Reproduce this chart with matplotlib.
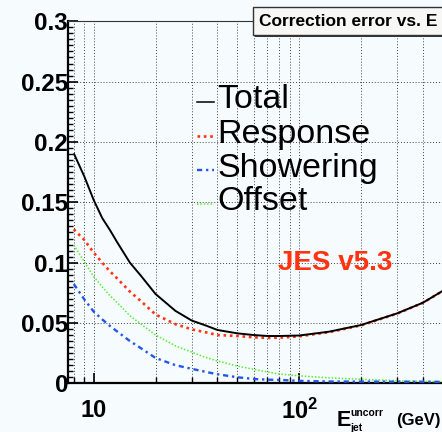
import numpy as np
import matplotlib
matplotlib.use("Agg")
import matplotlib.pyplot as plt
import matplotlib.ticker as ticker
from matplotlib.lines import Line2D
from matplotlib.patches import Rectangle

plt.rcParams['font.family'] = 'Liberation Sans'
plt.rcParams['mathtext.fontset'] = 'custom'
plt.rcParams['mathtext.rm'] = 'Liberation Sans'
plt.rcParams['mathtext.bf'] = 'Liberation Sans:bold'
plt.rcParams['mathtext.it'] = 'Liberation Sans:italic'

# uncorrected jet energy (GeV) and relative errors of each component
energy = [8, 9, 10, 11, 12, 13, 15, 17, 20, 25, 30, 35, 40, 50, 60, 70, 80,
          100, 140, 200, 300, 400, 500]
total = [0.1906, 0.1715, 0.1519, 0.137, 0.127, 0.117, 0.100, 0.089, 0.074,
         0.060, 0.052, 0.048, 0.0442, 0.0414, 0.0400, 0.0392, 0.0392,
         0.0396, 0.0428, 0.0483, 0.0580, 0.0668, 0.0767]
response = [0.1276, 0.1188, 0.1083, 0.100, 0.0928, 0.087, 0.076, 0.068,
            0.057, 0.049, 0.0447, 0.0423, 0.040, 0.0392, 0.0381, 0.0376,
            0.0378, 0.0389, 0.0424, 0.0480, 0.0578, 0.0667, 0.0766]
showering = [0.0823, 0.0696, 0.0594, 0.053, 0.0475, 0.043, 0.035, 0.029,
             0.021, 0.015, 0.012, 0.0095, 0.0075, 0.005, 0.0036, 0.003,
             0.0028, 0.002, 0.0015, 0.0014, 0.0013, 0.0013, 0.0012]
offset = [0.1146, 0.1008, 0.0884, 0.080, 0.0726, 0.067, 0.056, 0.049,
          0.040, 0.031, 0.0258, 0.0215, 0.0185, 0.0143, 0.0116, 0.0094,
          0.0077, 0.0062, 0.0045, 0.0033, 0.0022, 0.0016, 0.0013]

legend_names = ["Total", "Response", "Showering", "Offset"]
ytick_vals = [0, 0.05, 0.1, 0.15, 0.2, 0.25, 0.3]
ytick_labels = ["0", "0.05", "0.1", "0.15", "0.2", "0.25", "0.3"]
xtick_vals = [10, 100]
xtick_labels = ["10", r"$\mathbf{10^{2}}$"]

W, H = 442, 432
bg = '#f6fbfd'


def px(x, y):
    # pixel position (from top-left) -> figure fraction
    return x / W, 1 - y / H


fig = plt.figure(figsize=(W / 100, H / 100), dpi=100, facecolor=bg)
ax = fig.add_axes([68 / W, 48.7 / H, (W - 68) / W + 0.002, 362 / H])
ax.set_facecolor(bg)

ax.plot(energy, total, color='black', lw=1.4, solid_capstyle='butt', zorder=5)
ax.plot(energy, response, color='#ff3311', lw=1.9, linestyle=(0, (1, 1.4)), zorder=4)
ax.plot(energy, offset, color='#55ee33', lw=1.1, linestyle=(0, (1, 1.2)), zorder=3)
ax.plot(energy, showering, color='#2255ee', lw=1.7, linestyle=(0, (2.2, 1.6, 1, 1.6)), zorder=3)

ax.set_xscale('log')
ax.set_xlim(7.5, 500)
ax.set_ylim(0, 0.3)

ax.set_yticks(ytick_vals)
ax.set_yticklabels(ytick_labels)
ax.yaxis.set_minor_locator(ticker.MultipleLocator(0.005))
ax.set_xticks(xtick_vals)
ax.set_xticklabels(xtick_labels)
ax.xaxis.set_minor_locator(ticker.LogLocator(base=10, subs=np.arange(2, 10)))
ax.xaxis.set_minor_formatter(ticker.NullFormatter())

ax.tick_params(axis='both', which='both', direction='in', colors='black')
ax.tick_params(axis='y', which='major', length=7, width=1.2, pad=0, labelsize=17.5)
ax.tick_params(axis='y', which='minor', length=3.5, width=1)
ax.tick_params(axis='x', which='major', length=7, width=1.2, pad=11, labelsize=17)
ax.tick_params(axis='x', which='minor', length=4, width=1)
ax.tick_params(right=False, top=False, which='both')
for lab in ax.get_xticklabels() + ax.get_yticklabels():
    lab.set_fontweight('bold')

ax.grid(True, which='both', axis='x', color='#444444', lw=0.7, linestyle=(0, (1, 2)))
ax.grid(True, which='major', axis='y', color='#444444', lw=0.7, linestyle=(0, (1, 2)))
ax.set_axisbelow(True)

for side in ['left', 'bottom']:
    ax.spines[side].set_linewidth(1.6)
ax.spines['top'].set_linewidth(0.8)
ax.spines['top'].set_color('#333333')
ax.spines['right'].set_visible(False)

# axis title, ROOT style at the right end
fig.text(*px(337, 421), "E", fontsize=15.5, fontweight='bold', va='center', ha='left')
fig.text(*px(350, 413), "uncorr", fontsize=7.5, fontweight='bold', va='center', ha='left')
fig.text(*px(350, 428), "jet", fontsize=7.5, fontweight='bold', va='center', ha='left')
fig.text(*px(441, 421), "(GeV)", fontsize=12, fontweight='bold', va='center', ha='right')

# legend drawn by hand
styles = [dict(color='black', lw=1.1),
          dict(color='#ff3311', lw=1.9, linestyle=(0, (1, 1.4))),
          dict(color='#2255ee', lw=1.7, linestyle=(0, (2.2, 1.6, 1, 1.6))),
          dict(color='#55ee33', lw=1.1, linestyle=(0, (1, 1.2)))]
for i, (name, st) in enumerate(zip(legend_names, styles)):
    yc = 102 + 34 * i
    x0, y0 = px(197, yc)
    x1, _ = px(214, yc)
    fig.add_artist(Line2D([x0, x1], [y0, y0], transform=fig.transFigure, **st))
    fig.text(*px(217, yc - 2), name, fontsize=24.5, va='center', ha='left')

fig.text(*px(335, 263), "JES v5.3", fontsize=20, fontweight='bold', color='#ff3311',
         va='center', ha='center')

# title box in the top right corner
fig.add_artist(Rectangle(px(255, 37), 0.5, 28 / H, transform=fig.transFigure,
                         facecolor='#333333', edgecolor='none'))
fig.add_artist(Rectangle(px(253, 35), 0.5, 28 / H, transform=fig.transFigure,
                         facecolor='#f7f7f5', edgecolor='#333333', lw=1.0))
fig.text(*px(259, 21), "Correction error vs. E", fontsize=12.5, fontweight='bold',
         va='center', ha='left')

fig.savefig("out.png", dpi=100, facecolor=bg)
